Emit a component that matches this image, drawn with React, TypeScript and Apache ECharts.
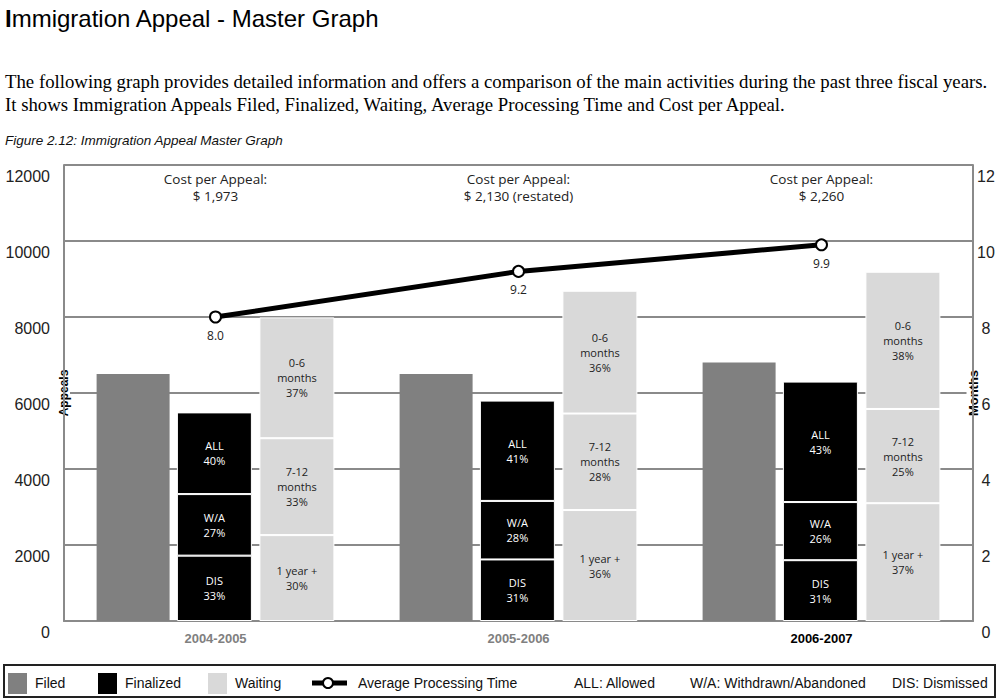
import React, { useEffect, useRef } from "react";
import * as echarts from "echarts";

const categories = ["2004-2005", "2005-2006", "2006-2007"];
const costLabels = [
  "Cost per Appeal:\n$ 1,973",
  "Cost per Appeal:\n$ 2,130 (restated)",
  "Cost per Appeal:\n$ 2,260",
];
const filed = [6500, 6500, 6800];
const finalizedDismissed = [1720, 1620, 1600];
const finalizedWithdrawn = [1620, 1540, 1530];
const finalizedAllowed = [2150, 2640, 3170];
const waitingOverYear = [2260, 2920, 3100];
const waiting7to12 = [2550, 2540, 2480];
const waiting0to6 = [3180, 3230, 3610];
const allowedPct = ["40%", "41%", "43%"];
const withdrawnPct = ["27%", "28%", "26%"];
const dismissedPct = ["33%", "31%", "31%"];
const overYearPct = ["30%", "36%", "37%"];
const sevenTo12Pct = ["33%", "28%", "25%"];
const zeroTo6Pct = ["37%", "36%", "38%"];
const processingTime = [8.0, 9.2, 9.9];
const appealsMin = 0;
const appealsMax = 12000;
const appealsStep = 2000;
const monthsMin = 0;
const monthsMax = 12;
const monthsStep = 2;

const GRID = "#8a8a8a";
const FILED = "#808080";
const FINAL = "#000000";
const WAIT = "#d9d9d9";
const SANS = "Liberation Sans, Arial, sans-serif";
const SEG = "Open Sans, sans-serif";

function segLabel(prefix: string, pcts: string[], color: string) {
  return {
    show: true,
    position: "inside",
    color,
    fontFamily: SEG,
    fontSize: 11,
    lineHeight: 15,
    formatter: (p: any) => `${prefix}\n${pcts[p.dataIndex]}`,
  };
}

function stackSeg(name: string, stack: string, data: number[], color: string, prefix: string, pcts: string[], textColor: string) {
  return {
    name,
    type: "bar",
    stack,
    data,
    barWidth: 75,
    itemStyle: { color, borderColor: "#ffffff", borderWidth: 1 },
    label: segLabel(prefix, pcts, textColor),
    z: 2,
  };
}

export default function App() {
  const ref = useRef<HTMLDivElement>(null);
  useEffect(() => {
    document.body.style.margin = "0";
    const chart = echarts.init(ref.current!, undefined, { renderer: "svg" });
    const legendY = 683;
    const legendText = (x: number, text: string) => ({
      type: "text",
      x,
      y: legendY,
      style: { text, fontFamily: SANS, fontSize: 14, fill: "#111", textVerticalAlign: "middle" },
    });
    const swatch = (x: number, fill: string) => ({
      type: "rect",
      shape: { x, y: 673, width: 19, height: 21 },
      style: { fill },
    });
    chart.setOption({
      animation: false,
      backgroundColor: "#ffffff",
      title: {
        left: 0,
        top: 1,
        text: "{b|I}{n|mmigration Appeal - Master Graph}",
        textStyle: {
          fontWeight: "normal",
          rich: {
            b: { fontFamily: SANS, fontSize: 24, fontWeight: "bold", color: "#000" },
            n: { fontFamily: SANS, fontSize: 24, fontWeight: "normal", color: "#000" },
          },
        },
      },
      grid: { left: 64, right: 27, top: 165, bottom: 77, containLabel: false, outerBoundsMode: "none" },
      xAxis: [
        {
          type: "category",
          data: categories,
          position: "bottom",
          axisLine: { show: true, lineStyle: { color: GRID, width: 2 } },
          axisTick: { show: false },
          axisLabel: {
            margin: 11,
            fontFamily: SANS,
            fontSize: 13,
            fontWeight: "bold",
            color: (v: any, i: number) => (i === 2 ? "#000" : "#808080"),
          },
        },
        {
          type: "category",
          data: costLabels,
          position: "top",
          axisLine: { show: false },
          axisTick: { show: false },
          axisLabel: {
            inside: true,
            margin: 5,
            fontFamily: SEG,
            fontSize: 13.5,
            lineHeight: 17,
            color: "#222",
          },
        },
      ],
      yAxis: [
        {
          type: "value",
          min: appealsMin,
          max: appealsMax,
          interval: appealsStep,
          name: "Appeals",
          nameLocation: "middle",
          nameGap: 0,
          nameMoveOverlap: false,
          nameTextStyle: {
            fontFamily: SANS,
            fontSize: 12,
            fontWeight: "bold",
            color: "#000",
            backgroundColor: "#fff",
            padding: [0, 3],
            verticalAlign: "middle",
          },
          axisLine: { show: true, lineStyle: { color: GRID, width: 2 } },
          axisTick: { show: false },
          splitLine: { show: true, lineStyle: { color: GRID, width: 2 } },
          axisLabel: {
            margin: 14,
            fontFamily: SANS,
            fontSize: 16,
            color: "#222",
            verticalAlign: "top",
            lineHeight: 22,
            formatter: (v: number) => String(v),
          },
        },
        {
          type: "value",
          min: monthsMin,
          max: monthsMax,
          interval: monthsStep,
          position: "right",
          name: "Months",
          nameLocation: "middle",
          nameGap: 0,
          nameRotate: 90,
          nameMoveOverlap: false,
          nameTextStyle: {
            fontFamily: SANS,
            fontSize: 13,
            fontWeight: "bold",
            color: "#000",
            backgroundColor: "#fff",
            padding: [0, 3],
            verticalAlign: "middle",
          },
          axisLine: { show: true, lineStyle: { color: GRID, width: 2 } },
          axisTick: { show: false },
          splitLine: { show: false },
          axisLabel: {
            margin: 13,
            align: "center",
            fontFamily: SANS,
            fontSize: 16,
            color: "#222",
            verticalAlign: "top",
            lineHeight: 22,
            formatter: (v: number) => String(v),
          },
        },
      ],
      series: [
        {
          name: "Filed",
          type: "bar",
          data: filed,
          barWidth: 73,
          barGap: "10%",
          itemStyle: { color: FILED },
          z: 2,
        },
        stackSeg("DIS", "finalized", finalizedDismissed, FINAL, "DIS", dismissedPct, "#fff"),
        stackSeg("W/A", "finalized", finalizedWithdrawn, FINAL, "W/A", withdrawnPct, "#fff"),
        stackSeg("ALL", "finalized", finalizedAllowed, FINAL, "ALL", allowedPct, "#fff"),
        stackSeg("1 year +", "waiting", waitingOverYear, WAIT, "1 year +", overYearPct, "#222"),
        stackSeg("7-12 months", "waiting", waiting7to12, WAIT, "7-12\nmonths", sevenTo12Pct, "#222"),
        stackSeg("0-6 months", "waiting", waiting0to6, WAIT, "0-6\nmonths", zeroTo6Pct, "#222"),
        {
          name: "Average Processing Time",
          type: "line",
          yAxisIndex: 1,
          data: processingTime,
          symbol: "circle",
          symbolSize: 11,
          lineStyle: { color: "#000", width: 5 },
          itemStyle: { color: "#fff", borderColor: "#000", borderWidth: 2 },
          label: {
            show: true,
            position: "bottom",
            distance: 6,
            fontFamily: SEG,
            fontSize: 12,
            color: "#222",
            formatter: (p: any) => Number(p.value).toFixed(1),
          },
          z: 5,
        },
      ],
      graphic: [
        {
          type: "text",
          left: 5,
          top: 70,
          style: {
            text:
              "The following graph provides detailed information and offers a comparison of the main activities during the past three fiscal years.\nIt shows Immigration Appeals Filed, Finalized, Waiting, Average Processing Time and Cost per Appeal.",
            fontFamily: "Liberation Serif, Times New Roman, serif",
            fontSize: 18.8,
            lineHeight: 23,
            fill: "#000",
          },
        },
        {
          type: "text",
          left: 5,
          top: 133,
          style: {
            text: "Figure 2.12: Immigration Appeal Master Graph",
            fontFamily: SANS,
            fontSize: 13.5,
            fontStyle: "italic",
            fill: "#111",
          },
        },
        {
          type: "rect",
          shape: { x: 4, y: 665, width: 991, height: 32 },
          style: { fill: "#fff", stroke: "#222", lineWidth: 2 },
        },
        swatch(8, FILED),
        legendText(35, "Filed"),
        swatch(98, FINAL),
        legendText(125, "Finalized"),
        swatch(208, WAIT),
        legendText(235, "Waiting"),
        {
          type: "line",
          shape: { x1: 312, y1: legendY, x2: 347, y2: legendY },
          style: { stroke: "#000", lineWidth: 5 },
        },
        {
          type: "circle",
          shape: { cx: 328, cy: legendY, r: 5 },
          style: { fill: "#fff", stroke: "#000", lineWidth: 2 },
        },
        legendText(358, "Average Processing Time"),
        legendText(574, "ALL: Allowed"),
        legendText(690, "W/A: Withdrawn/Abandoned"),
        legendText(892, "DIS: Dismissed"),
      ],
    });
    return () => chart.dispose();
  }, []);
  return <div ref={ref} style={{ width: 1000, height: 698 }} />;
}
